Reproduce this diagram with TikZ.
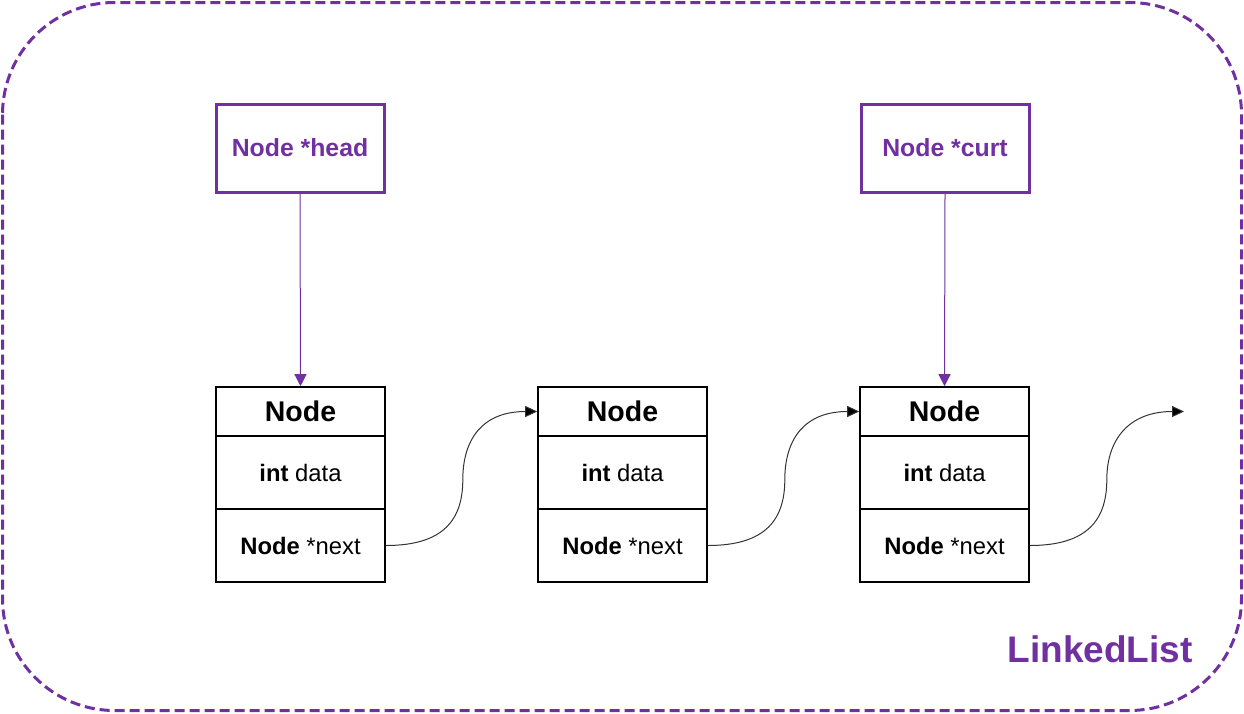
\documentclass[tikz,border=0pt]{standalone}
\usepackage{fontspec}
\setmainfont{Liberation Sans}
\usetikzlibrary{arrows.meta}
\definecolor{ppl}{HTML}{7030A0}
\definecolor{crv}{HTML}{333333}
\begin{document}
\begin{tikzpicture}[x=1pt,y=-1pt,
  ptrbox/.style={draw=ppl,line width=3pt,minimum width=168pt,minimum height=88pt,inner sep=0pt,text=ppl,font=\fontsize{24.8}{28}\selectfont\bfseries},
  cell/.style={draw=black,line width=1.6pt,minimum width=169pt,inner sep=0pt,font=\fontsize{23.8}{28}\selectfont},
  hdr/.style={cell,minimum height=49pt,font=\fontsize{28.5}{32}\selectfont\bfseries},
  datc/.style={cell,minimum height=73pt},
  ptrarrow/.style={draw=ppl,line width=1pt,-{Triangle[length=12pt,width=12pt]}},
  linkarrow/.style={draw=crv,line width=1pt,-{Triangle[length=12pt,width=11pt,fill=black]}}
]
\useasboundingbox (0,0) rectangle (1244,713);
\draw[ppl,line width=3pt,dash pattern=on 10pt off 5pt,rounded corners=112pt] (2.5,2.5) rectangle (1241.5,710.5);
\node[text=ppl,font=\fontsize{37}{42}\selectfont\bfseries,anchor=center] (title) at (1100,649) {LinkedList};

\node[ptrbox] (head) at (300,148) {Node *head};
\node[ptrbox] (curt) at (945,148) {Node *curt};

\foreach \n/\x in {A/300.5,B/622.5,C/944.5}{
  \node[hdr] (hdr\n) at (\x,411.5) {Node};
  \node[datc] (dat\n) at (\x,472.5) {\textbf{int} data};
  \node[datc] (nxt\n) at (\x,545.5) {\textbf{Node} *next};
}
\coordinate (endC) at (1184,411.5);

\draw[ptrarrow] (head.south) -- (hdrA.north);
\draw[ptrarrow] (curt.south) -- (hdrC.north);

\draw[linkarrow] (nxtA.east) .. controls +(58,0) and +(0,40) .. ++(77,-66) .. controls +(0,-40) and +(-55,0) .. (hdrB.west);
\draw[linkarrow] (nxtB.east) .. controls +(58,0) and +(0,40) .. ++(77,-66) .. controls +(0,-40) and +(-55,0) .. (hdrC.west);
\draw[linkarrow] (nxtC.east) .. controls +(58,0) and +(0,40) .. ++(77,-66) .. controls +(0,-40) and +(-55,0) .. (endC);
\end{tikzpicture}
\end{document}
